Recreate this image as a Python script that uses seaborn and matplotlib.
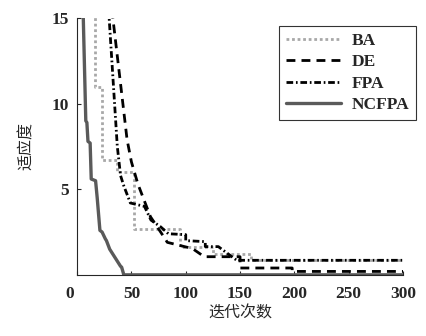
import matplotlib
matplotlib.use("Agg")
import matplotlib.pyplot as plt
import matplotlib.transforms as mtransforms
import seaborn as sns
import pandas as pd

# values (step vertices, iteration vs fitness)
ba_x = [16.5, 16.5, 23, 23, 37, 37, 52, 52, 95, 95, 125, 125, 160, 160, 300]
ba_y = [16, 11.0, 11.0, 6.7, 6.7, 6.0, 6.0, 2.65, 2.65, 1.6, 1.6, 1.2, 1.2, 0.85, 0.85]

de_x = [32, 46, 50, 56, 67.5, 81.5, 83, 102, 107, 117, 150, 150, 198, 198, 300]
de_y = [15.5, 7.9, 6.6, 5.3, 3.4, 2.06, 1.9, 1.6, 1.5, 1.06, 1.06, 0.4, 0.4, 0.2, 0.2]

fpa_x = [29, 37, 40, 43, 49, 62, 68, 77, 84, 100, 100, 118, 118, 130, 148, 150, 300]
fpa_y = [15.5, 7.5, 5.8, 5.2, 4.2, 4.0, 3.2, 2.8, 2.4, 2.35, 2.0, 1.94, 1.65, 1.65, 0.8, 0.85, 0.85]

nc_x = [5.5, 8, 9, 10, 12, 13, 17, 18.5, 21, 23, 26, 27, 30, 31, 35, 36, 40, 41, 43, 300]
nc_y = [15.5, 9.0, 8.9, 7.8, 7.7, 5.6, 5.5, 4.5, 2.6, 2.5, 2.1, 2.0, 1.5, 1.4, 1.0, 0.9, 0.5, 0.45, 0, 0]

x_ticks = [0, 50, 100, 150, 200, 250, 300]
y_ticks = [5, 10, 15]

sns.set_style("ticks")
plt.rcParams['font.family'] = ['Liberation Serif', 'Noto Sans CJK SC', 'DejaVu Sans']

fig = plt.figure(figsize=(4.26, 3.36), dpi=100)
ax = fig.add_axes([0.181, 0.182, 0.765, 0.764])

series = [
    ("BA", ba_x, ba_y, "#a8a8a8", (1, 1)),
    ("DE", de_x, de_y, "black", (3.2, 2.2)),
    ("FPA", fpa_x, fpa_y, "black", (2.4, 1, 0.6, 1)),
    ("NCFPA", nc_x, nc_y, "#5a5a5a", ""),
]
for name, xs, ys, col, dash in series:
    df = pd.DataFrame({"x": xs, "y": ys})
    kw = {}
    if dash:
        kw["dashes"] = dash
    sns.lineplot(data=df, x="x", y="y", ax=ax, sort=False, estimator=None,
                 color=col, lw=2.0 if dash else 2.4, label=name, **kw)

ax.set_xlim(0, 300)
ax.set_ylim(0, 15)
ax.set_xticks(x_ticks)
ax.set_yticks(y_ticks)
ax.tick_params(direction="in", length=3, width=0.8, labelsize=12.5)
ax.tick_params(axis="x", pad=8)
ax.tick_params(axis="y", pad=6)
for lab in ax.get_xticklabels() + ax.get_yticklabels():
    lab.set_fontweight("bold")
# the "0" label sits a bit left of the axis corner
zero = ax.get_xticklabels()[0]
zero.set_transform(zero.get_transform() + mtransforms.ScaledTranslation(-7 / 100, 0, fig.dpi_scale_trans))
sns.despine(ax=ax)
for s in ["left", "bottom"]:
    ax.spines[s].set_linewidth(0.8)

ax.set_xlabel("迭代次数", fontsize=11.5, labelpad=2,
              family=['Noto Sans CJK SC', 'DejaVu Sans'])
ax.set_ylabel("适应度", fontsize=11.5, labelpad=12,
              family=['Noto Sans CJK SC', 'DejaVu Sans'])

leg = ax.legend(loc="upper right", bbox_to_anchor=(0.977, 0.923),
                bbox_transform=fig.transFigure, frameon=True, fancybox=False,
                edgecolor="black", handlelength=3.2, handletextpad=0.6,
                labelspacing=0.3, borderpad=0.4, borderaxespad=0,
                prop={"family": "Liberation Serif", "weight": "bold", "size": 12.5})
leg.get_frame().set_linewidth(0.8)

fig.savefig("out.png", dpi=100)
